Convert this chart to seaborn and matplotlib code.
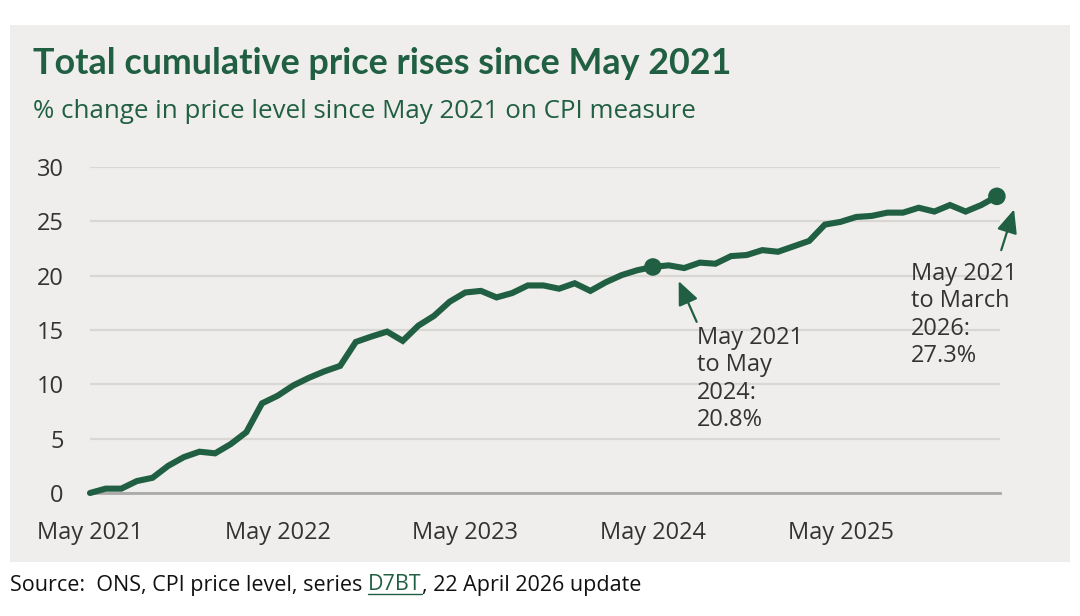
import matplotlib
matplotlib.use("Agg")
import matplotlib.pyplot as plt
import seaborn as sns
import pandas as pd
from matplotlib.patches import Rectangle
from matplotlib.lines import Line2D

# ---- data ----
months = list(range(59))  # May 2021 .. March 2026
values = [0.0, 0.4, 0.4, 1.1, 1.4, 2.5, 3.3, 3.8, 3.65, 4.5, 5.6, 8.25,
          8.95, 9.9, 10.6, 11.2, 11.7, 13.9, 14.4, 14.85, 14.0, 15.4, 16.3, 17.6,
          18.45, 18.6, 18.0, 18.4, 19.1, 19.1, 18.8, 19.3, 18.6, 19.4, 20.05, 20.5,
          20.8, 20.95, 20.7, 21.2, 21.1, 21.8, 21.9, 22.35, 22.2, 22.7, 23.2, 24.7,
          24.95, 25.4, 25.5, 25.8, 25.8, 26.25, 25.9, 26.5, 25.9, 26.5, 27.3]
tick_pos = [0, 12, 24, 36, 48]
tick_labels = ["May 2021", "May 2022", "May 2023", "May 2024", "May 2025"]
yticks = [0, 5, 10, 15, 20, 25, 30]
highlight_idx = [36, 58]
ann_texts = ["May 2021\nto May\n2024:\n20.8%", "May 2021\nto March\n2026:\n27.3%"]

GREEN = "#215f43"
PANEL = "#efeeec"
GRID = "#d9d7d4"
TEXT = "#333333"

sns.set_theme(style="white")
plt.rcParams["font.family"] = ["Open Sans", "DejaVu Sans"]

fig = plt.figure(figsize=(10.8, 6.16), dpi=100)
fig.patch.set_facecolor("white")
fig.patches.append(Rectangle((10 / 1080, 1 - 562 / 616), 1060 / 1080, 537 / 616,
                             transform=fig.transFigure, facecolor=PANEL,
                             edgecolor="none", zorder=-10))

ax = fig.add_axes([90 / 1080, 1 - 493 / 616, 910 / 1080, 326 / 616])
ax.set_facecolor("none")

df = pd.DataFrame({"month": months, "value": values})
sns.lineplot(data=df, x="month", y="value", ax=ax, color=GREEN, linewidth=4.4,
             solid_joinstyle="miter", clip_on=False, zorder=3)
ax.scatter([months[i] for i in highlight_idx], [values[i] for i in highlight_idx],
           s=160, color=GREEN, zorder=4, clip_on=False, edgecolor="none")

ax.set_xlim(0, 58.2)
ax.set_ylim(0, 30)
ax.set_yticks(yticks)
ax.set_yticklabels([str(v) for v in yticks], fontsize=17, color=TEXT)
ax.set_xticks(tick_pos)
ax.set_xticklabels(tick_labels, fontsize=17, color=TEXT)
ax.set_xlabel("")
ax.set_ylabel("")
ax.grid(axis="y", color=GRID, linewidth=1.6)
ax.set_axisbelow(True)
for s in ["top", "right", "left"]:
    ax.spines[s].set_visible(False)
ax.spines["bottom"].set_color("#aaaaaa")
ax.spines["bottom"].set_linewidth(2)
ax.tick_params(axis="x", length=8, width=1.6, color="#aaaaaa", direction="out", pad=12)
ax.tick_params(axis="y", length=0, pad=19)
for lbl in ax.get_yticklabels():
    lbl.set_horizontalalignment("right")

# annotations
arrow_kw = dict(arrowstyle="-|>,head_length=0.8,head_width=0.35", color=GREEN,
                lw=1.6, mutation_scale=18, shrinkA=0, shrinkB=0)
ax.text(38.8, 15.4, ann_texts[0], fontsize=17, color=TEXT, ha="left", va="top",
        linespacing=1.2)
ax.annotate("", xy=(37.65, 19.5), xytext=(38.8, 15.75), arrowprops=arrow_kw,
            annotation_clip=False)
ax.text(52.5, 21.3, ann_texts[1], fontsize=17, color=TEXT, ha="left", va="top",
        linespacing=1.2)
ax.annotate("", xy=(59.1, 26.1), xytext=(58.28, 22.35), arrowprops=arrow_kw,
            annotation_clip=False)

# titles
fig.text(33 / 1080, 1 - 64 / 616, "Total cumulative price rises since May 2021",
         fontsize=25.8, fontweight="bold", color=GREEN, va="center", ha="left",
         family=["Lato", "DejaVu Sans"])
fig.text(33 / 1080, 1 - 111 / 616, "% change in price level since May 2021 on CPI measure",
         fontsize=18.6, color=GREEN, va="center", ha="left")

# source line with underlined link
fig.canvas.draw()
renderer = fig.canvas.get_renderer()
y_src = 1 - 585 / 616
parts = [("Source:  ONS, CPI price level, series ", "#111111", False),
         ("D7BT", GREEN, True),
         (", 22 April 2026 update", "#111111", False)]
x_px = 10
for txt, col, ul in parts:
    t = fig.text(x_px / 1080, y_src, txt, fontsize=15.5, color=col, va="center", ha="left")
    bb = t.get_window_extent(renderer)
    if ul:
        fig.add_artist(Line2D([bb.x0 / 1080, bb.x1 / 1080],
                              [(bb.y0 + 2) / 616, (bb.y0 + 2) / 616],
                              transform=fig.transFigure, color=col, lw=1))
    x_px = bb.x1

fig.savefig("out.png", dpi=100, facecolor="white")
